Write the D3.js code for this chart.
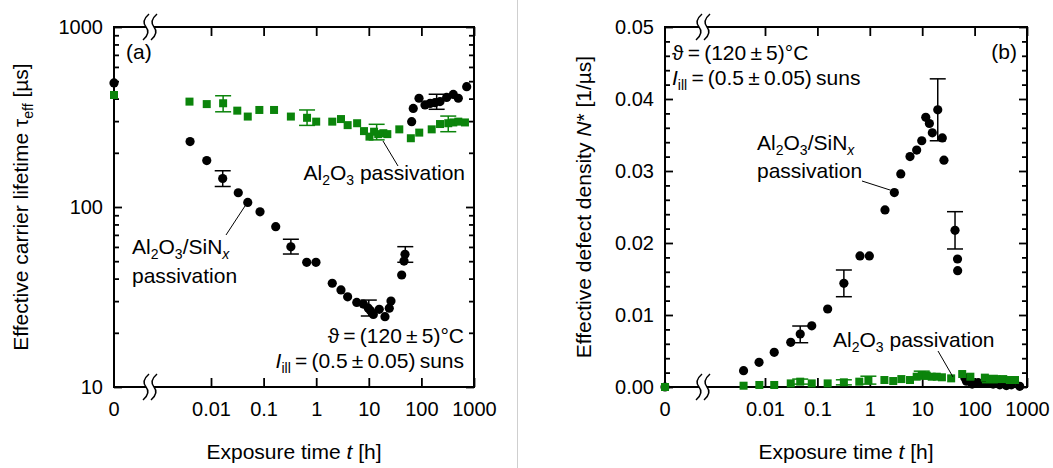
<!DOCTYPE html>
<html>
<head>
<meta charset="utf-8">
<script src="https://cdn.jsdelivr.net/npm/d3@7"></script>
<style>
body { margin: 0; background: #fff; }
svg { display: block; font-family: "Liberation Sans", Arial, sans-serif; }
</style>
</head>
<body>
<div id="chart"></div>
<script>
// ---- data ----
// (a) lifetime, Al2O3/SiNx stack (black circles)
const tSiN = [0, 0.004, 0.0083, 0.0167, 0.033, 0.05, 0.0855, 0.17, 0.33, 0.66,
              0.99, 2.02, 2.96, 3.96, 5.9, 7.87, 9.8, 10.8, 12.2, 15.8,
              20.3, 24.5, 26.4, 42.2, 46.7, 48.8, 65.3, 70, 90, 117,
              146, 181, 226, 302, 404, 503, 726];
const tauSiN = [489, 231, 181, 144, 120, 106, 94, 77.7, 60.1, 49.3,
                49.3, 37.7, 34.6, 31.7, 29.5, 28.9, 27.4, 26.5, 25.3, 27,
                24.6, 27.4, 30, 41.9, 50.1, 54.6, 298, 353, 402, 369,
                376, 380, 385, 406, 422, 402, 466];
const errSiN = [[0.0167, 130, 159], [0.33, 54.8, 66.2], [10, 24.8, 30.4], [49.4, 49.3, 60.2], [195, 349, 423]];

// (a) lifetime, Al2O3 only (green squares)
const tAl = [0, 0.0039, 0.0083, 0.017, 0.0316, 0.05, 0.083, 0.158, 0.33, 0.67,
             1.0, 2.02, 2.96, 3.96, 6.0, 8.1, 10.3, 12.6, 15.1, 18.9,
             22.5, 38, 63, 91, 157, 226, 324, 404, 503, 673];
const tauAl = [419, 385, 373, 377, 343, 318, 346, 346, 318, 313,
               298, 298, 308, 285, 292, 264, 246, 262, 254, 257,
               254, 270, 241, 259, 270, 289, 292, 295, 298, 295];
const errAl = [[0.017, 338, 415], [0.67, 284, 346], [14.1, 236, 288], [324, 262, 320]];

// (b) defect density, Al2O3/SiNx
const tSiNb = [0, 0.0039, 0.0077, 0.015, 0.031, 0.047, 0.078, 0.157, 0.32, 0.65,
               0.98, 1.95, 2.94, 3.9, 5.85, 7.85, 9.8, 11.7, 13.7, 15.6,
               19.8, 24.2, 26, 42.3, 47.2, 47.5, 65, 70, 90, 117,
               146, 181, 226, 302, 404, 503, 726];
const nSiN = [0, 0.00227, 0.00343, 0.00482, 0.0062, 0.00736, 0.0085, 0.01083, 0.0144, 0.0182,
              0.0182, 0.0246, 0.027, 0.0296, 0.032, 0.0329, 0.0342, 0.03746, 0.0366, 0.0353,
              0.0385, 0.0346, 0.0315, 0.02176, 0.01778, 0.01616, 0.0013, 0.0008, 0.0004, 0.0006,
              0.0005, 0.0005, 0.0004, 0.0003, 0.0002, 0.0003, 0.0001];
const errSiNb = [[0.047, 0.00615, 0.00847], [0.32, 0.01254, 0.01625], [19.8, 0.0342, 0.0428], [42.3, 0.01917, 0.02435]];

// (b) defect density, Al2O3 only
const tAlb = [0, 0.0039, 0.0078, 0.015, 0.031, 0.047, 0.078, 0.157, 0.32, 0.63,
              0.94, 1.9, 2.8, 4.0, 5.85, 7.85, 9.8, 12.2, 15.2, 19,
              23.8, 35.7, 58, 83, 157, 196, 263, 352, 470, 590];
const nAl = [0, 0.00018, 0.00028, 0.00028, 0.0005, 0.00074, 0.0005, 0.0005, 0.00065, 0.00074,
             0.00097, 0.00097, 0.00083, 0.0011, 0.00097, 0.00143, 0.00167, 0.00157, 0.00143, 0.00143,
             0.00135, 0.0012, 0.0018, 0.00143, 0.0013, 0.0011, 0.0011, 0.0011, 0.00097, 0.00097];
const errAlb = [[0.047, 0.0004, 0.0011], [0.32, 0.0003, 0.001], [0.94, 0.0004, 0.0015], [9.8, 0.0011, 0.0022], [196, 0.0006, 0.0016]];

// ticks
const xTicks = [0.01, 0.1, 1, 10, 100, 1000];
const tauMajor = [10, 100, 1000];
const tauMinor = [20, 30, 40, 50, 60, 70, 80, 90, 200, 300, 400, 500, 600, 700, 800, 900];
const nMajor = [0, 0.01, 0.02, 0.03, 0.04, 0.05];
const nMinor = [0.002, 0.004, 0.006, 0.008, 0.012, 0.014, 0.016, 0.018, 0.022, 0.024, 0.026, 0.028,
                0.032, 0.034, 0.036, 0.038, 0.042, 0.044, 0.046, 0.048];

const GREEN = "#0b840b";
const W = 1053, H = 468;

const svg = d3.select("#chart").append("svg")
    .attr("width", W)
    .attr("height", H);

svg.append("rect").attr("width", W).attr("height", H).attr("fill", "#fff");
svg.append("line")
    .attr("x1", 517.5).attr("x2", 517.5).attr("y1", 0).attr("y2", H)
    .attr("stroke", "#cfcfcf").attr("stroke-width", 1);

// text with sub/italic pieces: [string, flags]
function rich(g, x, y, parts, anchor, size) {
    let t = g.append("text")
        .attr("x", x).attr("y", y)
        .attr("font-size", size || 21)
        .attr("text-anchor", anchor || "start");
    let shift = 0;
    parts.forEach(p => {
        let s = t.append("tspan").text(p[0]);
        let f = p[1] || "";
        let target = f.includes("sub") ? 5 : 0;
        if (target !== shift) s.attr("dy", target - shift);
        shift = target;
        if (f.includes("sub")) s.attr("font-size", 14);
        if (f.includes("it")) s.attr("font-style", "italic");
    });
    return t;
}

function breakMark(g, bx, by) {
    g.append("rect").attr("x", bx - 4).attr("y", by - 2).attr("width", 8).attr("height", 4).attr("fill", "#fff");
    [-4, 4].forEach(dx => {
        let cx = bx + dx;
        g.append("path")
            .attr("d", `M${cx + 3},${by - 13} Q${cx - 5},${by - 6} ${cx},${by} Q${cx + 5},${by + 6} ${cx - 3},${by + 13}`)
            .attr("fill", "none").attr("stroke", "#000").attr("stroke-width", 1.5);
    });
}

function styleAxis(sel) {
    sel.select(".domain").remove();
    sel.attr("font-size", 20).attr("font-family", null);
    sel.selectAll(".tick line").attr("stroke-width", 1.8);
    sel.selectAll(".tick text").attr("fill", "#000");
}

function drawPanel(p) {
    let g = svg.append("g");
    let x = d3.scaleLog().domain([0.01, 1000]).range([p.xl, p.xr]);
    let xp = t => t === 0 ? p.x0 : x(t);
    let y = p.y;

    // bottom / top axes
    g.append("g").attr("transform", `translate(0,${p.bottom})`)
        .call(d3.axisBottom(x).tickValues(xTicks).tickSize(-9).tickPadding(15).tickFormat(d3.format("~g")))
        .call(styleAxis);
    g.append("text").attr("x", p.x0).attr("y", p.bottom + 15).attr("dy", "0.71em")
        .attr("text-anchor", "middle").attr("font-size", 20).text("0");
    g.append("g").attr("transform", `translate(0,${p.top})`)
        .call(d3.axisTop(x).tickValues(xTicks).tickSize(-9).tickFormat(""))
        .call(styleAxis);

    // left / right axes
    g.append("g").attr("transform", `translate(${p.x0},0)`)
        .call(d3.axisLeft(y).tickValues(p.major).tickSize(-8).tickPadding(11).tickFormat(p.fmt))
        .call(styleAxis);
    g.append("g").attr("transform", `translate(${p.x0},0)`)
        .call(d3.axisLeft(y).tickValues(p.minor).tickSize(-5).tickFormat(""))
        .call(styleAxis);
    g.append("g").attr("transform", `translate(${p.xr},0)`)
        .call(d3.axisRight(y).tickValues(p.major).tickSize(-8).tickFormat(""))
        .call(styleAxis);
    g.append("g").attr("transform", `translate(${p.xr},0)`)
        .call(d3.axisRight(y).tickValues(p.minor).tickSize(-5).tickFormat(""))
        .call(styleAxis);

    // frame
    g.append("rect")
        .attr("x", p.x0).attr("y", p.top)
        .attr("width", p.xr - p.x0).attr("height", p.bottom - p.top)
        .attr("fill", "none").attr("stroke", "#000").attr("stroke-width", 2);
    breakMark(g, p.brk, p.top);
    breakMark(g, p.brk, p.bottom);

    // error bars + markers
    p.series.forEach(s => {
        let eb = g.append("g").attr("stroke", s.color).attr("stroke-width", 1.5);
        s.err.forEach(e => {
            let cx = xp(e[0]);
            eb.append("line").attr("x1", cx).attr("x2", cx).attr("y1", y(e[1])).attr("y2", y(e[2]));
            eb.append("line").attr("x1", cx - 8).attr("x2", cx + 8).attr("y1", y(e[1])).attr("y2", y(e[1]));
            eb.append("line").attr("x1", cx - 8).attr("x2", cx + 8).attr("y1", y(e[2])).attr("y2", y(e[2]));
        });
        let pts = s.t.map((t, i) => ({ t: t, v: s.v[i] }));
        if (s.shape === "circle") {
            g.selectAll(null).data(pts).enter().append("circle")
                .attr("cx", d => xp(d.t)).attr("cy", d => y(d.v))
                .attr("r", 4.6).attr("fill", s.color);
        } else {
            g.selectAll(null).data(pts).enter().append("rect")
                .attr("x", d => xp(d.t) - 4).attr("y", d => y(d.v) - 4)
                .attr("width", 8).attr("height", 8).attr("fill", s.color);
        }
    });

    // axis titles
    rich(g, (p.x0 + p.xr) / 2, 459, [["Exposure time "], ["t", "it"], [" [h]"]], "middle");
    rich(g, 0, 0, p.ytitle, "middle").attr("transform", `translate(${p.ytx},207) rotate(-90)`);
    return g;
}

const sp = "\u2009";
const condT = [["\u03D1" + sp + "=" + sp + "(120" + sp + "\u00B1" + sp + "5)\u00B0C"]];
const condI = [["I", "it"], ["ill", "sub"], [sp + "=" + sp + "(0.5" + sp + "\u00B1" + sp + "0.05)" + sp + "suns"]];

// ---- panel (a) ----
let ga = drawPanel({
    x0: 114, xl: 211, xr: 474, top: 27, bottom: 387, brk: 150,
    y: d3.scaleLog().domain([10, 1000]).range([387, 27]),
    major: tauMajor, minor: tauMinor, fmt: d3.format("d"),
    ytx: 28,
    ytitle: [["Effective carrier lifetime \u03C4"], ["eff", "sub"], [" [\u00B5s]"]],
    series: [
        { t: tSiN, v: tauSiN, err: errSiN, color: "#000", shape: "circle" },
        { t: tAl, v: tauAl, err: errAl, color: GREEN, shape: "square" }
    ]
});
rich(ga, 126, 59, [["(a)"]]);
rich(ga, 465, 180, [["Al"], ["2", "sub"], ["O"], ["3", "sub"], [" passivation"]], "end");
ga.append("line").attr("x1", 383).attr("y1", 141).attr("x2", 398).attr("y2", 166).attr("stroke", "#000").attr("stroke-width", 1);
rich(ga, 132, 254, [["Al"], ["2", "sub"], ["O"], ["3", "sub"], ["/SiN"], ["x", "sub it"]]);
rich(ga, 132, 283, [["passivation"]]);
ga.append("line").attr("x1", 226).attr("y1", 235).attr("x2", 245).attr("y2", 206).attr("stroke", "#000").attr("stroke-width", 1);
rich(ga, 464, 343, condT, "end");
rich(ga, 464, 368, condI, "end");

// ---- panel (b) ----
let gb = drawPanel({
    x0: 665, xl: 765, xr: 1027, top: 27, bottom: 387, brk: 703,
    y: d3.scaleLinear().domain([0, 0.05]).range([387, 27]),
    major: nMajor, minor: nMinor, fmt: d3.format(".2f"),
    ytx: 591,
    ytitle: [["Effective defect density "], ["N", "it"], ["* [1/\u00B5s]"]],
    series: [
        { t: tSiNb, v: nSiN, err: errSiNb, color: "#000", shape: "circle" },
        { t: tAlb, v: nAl, err: errAlb, color: GREEN, shape: "square" }
    ]
});
rich(gb, 1017, 59, [["(b)"]], "end");
rich(gb, 672, 60, condT);
rich(gb, 672, 85, condI);
rich(gb, 757, 150, [["Al"], ["2", "sub"], ["O"], ["3", "sub"], ["/SiN"], ["x", "sub it"]]);
rich(gb, 757, 178, [["passivation"]]);
gb.append("line").attr("x1", 862).attr("y1", 181).attr("x2", 890).attr("y2", 190).attr("stroke", "#000").attr("stroke-width", 1);
rich(gb, 833, 347, [["Al"], ["2", "sub"], ["O"], ["3", "sub"], [" passivation"]]);
gb.append("line").attr("x1", 938).attr("y1", 351).attr("x2", 953).attr("y2", 377).attr("stroke", "#000").attr("stroke-width", 1);
</script>
</body>
</html>
